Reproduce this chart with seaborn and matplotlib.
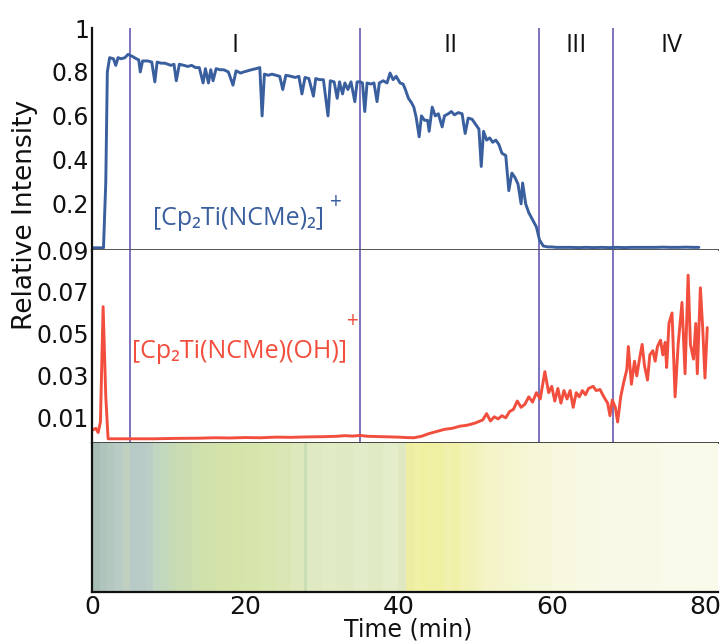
import numpy as np
import pandas as pd
import matplotlib
matplotlib.use("Agg")
import matplotlib.pyplot as plt
from matplotlib.colors import ListedColormap, to_rgb
import seaborn as sns

# ---------------- data ----------------
blue_t = [0, 1.5, 1.8, 2.0, 2.3, 2.8, 3.1, 3.4, 3.8, 4.3, 4.7, 5.3, 5.8, 6.1, 6.3, 6.6,
          7.3, 7.8, 8.2, 8.5, 9.0, 9.5, 10.3, 10.7, 11.0, 11.4, 12.0, 12.5, 13.0, 13.5,
          14.0, 14.5, 14.8, 15.2, 15.5, 15.8, 16.2, 16.7, 17.2, 17.8, 18.4, 18.8, 19.4,
          19.8, 20.3, 20.8, 21.4, 21.9, 22.2, 22.5, 23.0, 23.5, 24.0, 24.5, 24.9, 25.3,
          26.0, 26.5, 27.0, 27.4, 27.8, 28.3, 28.9, 29.2, 29.7, 30.2, 30.8, 31.1, 31.6,
          32.0, 32.3, 32.7, 33.0, 33.4, 33.8, 34.3, 34.6, 35.0, 35.3, 35.6, 35.9, 36.4,
          36.8, 37.2, 37.5, 38.0, 38.5, 38.9, 39.3, 39.7, 40.2, 40.6, 40.9, 41.3, 41.7,
          42.0, 42.3, 42.7, 43.0, 43.4, 43.8, 44.0, 44.4, 44.8, 45.2, 45.7, 46.0, 46.5,
          46.9, 47.3, 47.8, 48.3, 48.7, 49.1, 49.6, 50.1, 50.5, 50.8, 51.1, 51.5, 51.9,
          52.3, 52.7, 53.1, 53.5, 54.0, 54.4, 54.8, 55.2, 55.6, 56.0, 56.2, 56.6, 57.0,
          57.5, 58.0, 58.4, 58.9, 59.5, 60.0, 60.6, 61.5, 62.5, 63.5, 64.5, 65.5, 66.5,
          67.5, 68.5, 69.5, 70.5, 71.5, 72.5, 73.5, 74.5, 75.5, 76.5, 77.5, 78.5, 79.2]
blue_v = [0.0, 0.0, 0.30, 0.80, 0.865, 0.86, 0.83, 0.865, 0.86, 0.865, 0.88, 0.87, 0.86, 0.855, 0.80, 0.85,
          0.85, 0.845, 0.755, 0.845, 0.84, 0.84, 0.83, 0.835, 0.76, 0.835, 0.83, 0.825, 0.83, 0.82,
          0.82, 0.75, 0.815, 0.75, 0.81, 0.76, 0.815, 0.81, 0.81, 0.80, 0.74, 0.805, 0.795,
          0.80, 0.805, 0.81, 0.815, 0.82, 0.60, 0.79, 0.785, 0.79, 0.785, 0.78, 0.72, 0.785,
          0.78, 0.775, 0.78, 0.70, 0.775, 0.77, 0.69, 0.77, 0.765, 0.765, 0.60, 0.76, 0.755,
          0.68, 0.755, 0.70, 0.75, 0.72, 0.755, 0.665, 0.755, 0.755, 0.75, 0.62, 0.75, 0.745,
          0.75, 0.665, 0.75, 0.76, 0.75, 0.795, 0.765, 0.78, 0.75, 0.745, 0.72, 0.68, 0.66,
          0.64, 0.595, 0.505, 0.60, 0.58, 0.58, 0.53, 0.64, 0.60, 0.61, 0.55, 0.60, 0.61,
          0.62, 0.605, 0.615, 0.61, 0.52, 0.59, 0.585, 0.56, 0.54, 0.37, 0.53, 0.49, 0.50,
          0.48, 0.49, 0.47, 0.43, 0.42, 0.26, 0.34, 0.32, 0.29, 0.20, 0.295, 0.20, 0.16,
          0.127, 0.095, 0.036, 0.008, 0.004, 0.004, 0.002, 0.002, 0.002, 0.001, 0.002, 0.001, 0.002,
          0.001, 0.002, 0.001, 0.002, 0.002, 0.002, 0.002, 0.003, 0.002, 0.002, 0.003, 0.002, 0.002]

red_t = [0, 0.5, 0.8, 1.1, 1.45, 1.8, 2.1, 3, 5, 8, 11, 14, 16, 18, 20, 22, 24, 26, 28, 30,
         32, 33, 34, 35, 36, 38, 40, 41, 42, 43, 44, 45, 46, 47, 48, 49, 50, 51, 51.5, 52,
         52.5, 53, 53.5, 54, 54.5, 55, 55.5, 56, 56.5, 57, 57.5, 58, 58.5, 59.1, 59.6, 60.0,
         60.4, 60.8, 61.2, 61.6, 62.0, 62.4, 62.8, 63.2, 63.6, 64.0, 64.4, 64.8, 65.4, 65.8,
         66.3, 66.8, 67.3, 67.6, 67.9, 68.3, 68.6, 69.0, 69.4, 69.8, 70.0, 70.4, 70.8, 71.1,
         71.5, 71.8, 72.1, 72.5, 72.8, 73.2, 73.5, 73.8, 74.2, 74.5, 74.8, 75.0, 75.3, 75.7,
         76.1, 76.5, 77.0, 77.4, 77.8, 78.1, 78.5, 78.8, 79.0, 79.4, 79.7, 80.0, 80.3]
red_v = [0.004, 0.005, 0.003, 0.008, 0.063, 0.020, 0.0, 0.0, 0.0, 0.0, 0.0002, 0.0003, 0.0005,
         0.0004, 0.0006, 0.0005, 0.0008, 0.0007, 0.0009, 0.0010, 0.0012, 0.0015, 0.0013, 0.0016,
         0.0012, 0.0010, 0.0008, 0.0006, 0.0005, 0.0012, 0.0025, 0.0035, 0.0045, 0.0050, 0.0060,
         0.0065, 0.0075, 0.0090, 0.0120, 0.0085, 0.0105, 0.0095, 0.0110, 0.0100, 0.0130, 0.0140,
         0.0180, 0.0150, 0.0165, 0.0200, 0.0175, 0.0220, 0.0190, 0.0320, 0.0220, 0.0250, 0.0180,
         0.0240, 0.0170, 0.0230, 0.0190, 0.0230, 0.0150, 0.0220, 0.0200, 0.0230, 0.0210, 0.0240,
         0.0250, 0.0230, 0.0235, 0.0200, 0.0170, 0.0110, 0.0185, 0.0150, 0.0080, 0.0200, 0.0270,
         0.0330, 0.0440, 0.0260, 0.0370, 0.0300, 0.0390, 0.0450, 0.0350, 0.0280, 0.0400, 0.0420,
         0.0370, 0.0440, 0.0470, 0.0400, 0.0460, 0.0340, 0.0550, 0.0600, 0.0200, 0.0450, 0.0650,
         0.0310, 0.0780, 0.0450, 0.0380, 0.0550, 0.0310, 0.0720, 0.0530, 0.0290, 0.0530]

phase_bounds = [5.0, 35.0, 58.4, 68.0]
phase_names = ["I", "II", "III", "IV"]
phase_label_t = [18.7, 46.8, 63.2, 75.6]

strip_edges = [0, 1, 2, 3, 4, 5, 6, 7, 8, 9, 10, 11, 12, 13, 14, 16, 18, 20, 22, 24, 26,
               27.7, 28.0, 30, 32, 34, 36, 38, 40, 41, 42, 43, 44, 45, 46, 47, 48, 49, 50,
               51, 53, 55, 57, 60, 63, 66, 70, 74, 78, 81.7]
strip_colors = ["#a8bdb6", "#afc4bc", "#b4c8c0", "#b8cbc4", "#bfcfc0", "#b7cbc6", "#b9cbc9",
                "#bccdc8", "#c0d6c1", "#c3d8bc", "#c6dab6", "#c9dcb3", "#cbddb0", "#cde0ae",
                "#d0e1ab", "#d3e3aa", "#d5e4a8", "#d6e5ab", "#d8e6b0", "#dae7b4", "#dde9bc",
                "#c9deb4", "#dfeac2", "#e1ebc6", "#dfeac3", "#e2ecc8", "#e0ebc4", "#e3edca",
                "#dfe8c0", "#eeeea2", "#f0f0a6", "#eff0a0", "#f0f0a4", "#eff0a2", "#f1f1ae",
                "#f0f0a8", "#f2f2b5", "#f1f2b8", "#f3f3c0", "#f4f4c8", "#f4f5cd", "#f5f6d2",
                "#f6f7d8", "#f7f8de", "#f8f9e4", "#f8f9e6", "#f9f9e8", "#f9faea", "#fafaeb"]

x_ticks = [0, 20, 40, 60, 80]
top_ticks = [0.2, 0.4, 0.6, 0.8, 1.0]
top_tick_labels = ["0.2", "0.4", "0.6", "0.8", "1"]
mid_ticks = [0.01, 0.03, 0.05, 0.07, 0.09]
mid_tick_labels = ["0.01", "0.03", "0.05", "0.07", "0.09"]

# ---------------- style ----------------
sns.set_style("white")
plt.rcParams["font.family"] = ["DejaVu Sans"]

BLUE = "#3a5f9e"
RED = "#f24e3e"
PURPLE = "#7a72bd"
INK = "#111111"
LBL_FONT = ["Open Sans", "DejaVu Sans"]

fig = plt.figure(figsize=(7.2, 6.41), dpi=100)
L, W = 92 / 720, 626 / 720
H = 641
ax_top = fig.add_axes([L, (H - 250) / H, W, 222 / H])
ax_mid = fig.add_axes([L, (H - 443) / H, W, 193 / H], sharex=ax_top)
ax_str = fig.add_axes([L, (H - 592) / H, W, 149 / H], sharex=ax_top)

df_blue = pd.DataFrame({"t": blue_t, "v": blue_v})
df_red = pd.DataFrame({"t": red_t, "v": red_v})

sns.lineplot(data=df_blue, x="t", y="v", ax=ax_top, color=BLUE, lw=2.1)
sns.lineplot(data=df_red, x="t", y="v", ax=ax_mid, color=RED, lw=2.1)

# colour strip
cmap = ListedColormap([to_rgb(c) for c in strip_colors])
ax_str.pcolormesh(strip_edges, [0, 1], np.arange(len(strip_colors))[None, :],
                  cmap=cmap, shading="flat", vmin=-0.5, vmax=len(strip_colors) - 0.5)
ax_str.set_ylim(0, 1)
ax_str.set_yticks([])

ax_top.set_xlim(0, 81.7)
ax_top.set_ylim(-0.01, 1.0)
ax_mid.set_ylim(-0.002, 0.09)

for ax in (ax_top, ax_mid):
    for b in phase_bounds:
        ax.axvline(b, color=PURPLE, lw=1.4, zorder=1)

for name, t in zip(phase_names, phase_label_t):
    ax_top.text(t, 0.92, name, ha="center", va="center", fontsize=18,
                family=LBL_FONT, color=INK)

ax_top.set_yticks(top_ticks)
ax_top.set_yticklabels(top_tick_labels)
ax_mid.set_yticks(mid_ticks)
ax_mid.set_yticklabels(mid_tick_labels)
ax_str.set_xticks(x_ticks)
ax_str.set_xticklabels([str(v) for v in x_ticks])

for ax in (ax_top, ax_mid, ax_str):
    ax.set_xlabel("")
    ax.set_ylabel("")
    ax.tick_params(axis="y", length=0, pad=2, labelsize=17, colors=INK)
    ax.tick_params(axis="x", length=0, pad=2, labelsize=18, colors=INK)
    for s in ("top", "right"):
        ax.spines[s].set_visible(False)
    ax.spines["left"].set_color(INK)
    ax.spines["left"].set_linewidth(1.6)
    ax.spines["bottom"].set_linewidth(1.4)

ax_top.spines["bottom"].set_color("#555555")
ax_mid.spines["bottom"].set_color("#444444")
ax_str.spines["bottom"].set_color(INK)
ax_str.spines["bottom"].set_linewidth(1.6)
plt.setp(ax_top.get_xticklabels(), visible=False)
plt.setp(ax_mid.get_xticklabels(), visible=False)

# series labels
ax_top.text(7.9, 0.135, "[Cp₂Ti(NCMe)₂]", ha="left", va="center", fontsize=18,
            color=BLUE, family=LBL_FONT)
ax_top.text(31.8, 0.205, "+", ha="center", va="center", fontsize=15, color=BLUE, family=LBL_FONT)
ax_mid.text(5.2, 0.0414, "[Cp₂Ti(NCMe)(OH)]", ha="left", va="center", fontsize=18,
            color=RED, family=LBL_FONT)
ax_mid.text(34.0, 0.0557, "+", ha="center", va="center", fontsize=15, color=RED, family=LBL_FONT)

fig.text(408 / 720, 1 - 630 / 641, "Time (min)", ha="center", va="center",
         fontsize=17, color=INK)
fig.text(25 / 720, 1 - 215 / 641, "Relative Intensity", rotation=90, ha="center",
         va="center", fontsize=19, color=INK)

fig.savefig("out.png", dpi=100)
